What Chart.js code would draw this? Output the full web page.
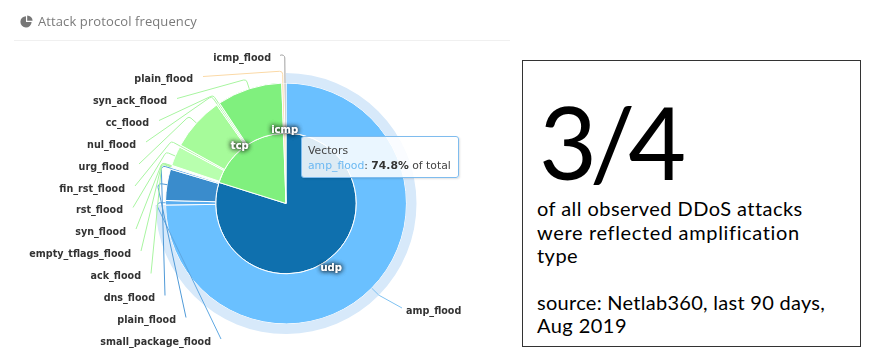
<!DOCTYPE html>
<html>
<head>
<meta charset="utf-8">
<script src="https://cdn.jsdelivr.net/npm/chart.js@4"></script>
<style>
html,body{margin:0;padding:0;background:#fff;width:871px;height:363px;overflow:hidden}
#stage{position:relative;width:871px;height:363px}
#left{position:absolute;left:0;top:0;width:510px;height:363px;overflow:hidden;filter:blur(.35px)}
canvas{position:absolute;left:0;top:0}
#title{position:absolute;left:38px;top:12px;font:13px/18px "Open Sans",sans-serif;color:#7a7a7a;letter-spacing:.1px;white-space:nowrap}
#icon{position:absolute;left:20px;top:15px}
#rule{position:absolute;left:14px;top:40px;width:496px;height:1px;background:#f0f0f0}
#tip{position:absolute;left:301px;top:136px;width:158px;height:42px;box-sizing:border-box;border:1px solid #7fbcee;border-radius:3px;background:rgba(255,255,255,.86);box-shadow:1px 1px 2px rgba(0,0,0,.12);font:10.8px/15px "DejaVu Sans",sans-serif;color:#444;padding:6px 6px;white-space:nowrap}
#tip .n{color:#6cb8f2}
#tip b{color:#333}
#box{position:absolute;left:522px;top:60px;width:337px;height:285px;border:1px solid #333;box-sizing:content-box}
.t{position:absolute;white-space:nowrap;color:#000;font-family:Lato,sans-serif}
#big{left:539px;top:81px;font-size:100px;line-height:120px;font-weight:400;letter-spacing:-7px}
.b{left:537px;font-size:20px;line-height:24px;letter-spacing:.45px}
</style>
</head>
<body>
<div id="stage">
<div id="left">
<canvas id="c" width="871" height="363"></canvas>
<svg id="icon" width="13" height="13" viewBox="0 0 13 13"><path d="M6 1.2A5.6 5.6 0 1 0 11.6 7H6z" fill="#777"/><path d="M7.2 0.4A5.4 5.4 0 0 1 12.6 5.8H7.2z" fill="#777"/></svg>
<div id="title">Attack protocol frequency</div>
<div id="rule"></div>
<div id="tip"></div>
</div>
<div id="box"></div>
<div class="t" id="big">3/4</div>
<div class="t b" style="top:196px">of all observed DDoS attacks</div>
<div class="t b" style="top:220px;letter-spacing:.65px">were reflected amplification</div>
<div class="t b" style="top:243px">type</div>
<div class="t b" style="top:290px;letter-spacing:.28px">source: Netlab360, last 90 days,</div>
<div class="t b" style="top:313px">Aug 2019</div>
</div>
<script>
const protocolLabels = ["udp", "tcp", "icmp"];
const protocolValues = [79.85, 19.59, 0.56];
const vectorLabels = ["amp_flood", "small_package_flood", "plain_flood", "dns_flood", "ack_flood", "empty_tflags_flood", "syn_flood", "rst_flood", "fin_rst_flood", "urg_flood", "nul_flood", "cc_flood", "syn_ack_flood", "plain_flood", "icmp_flood"];
const vectorValues = [74.8, 0.6, 4.2, 0.25, 0.1, 0.08, 0.1, 2.64, 0.28, 7.2, 0.22, 0.22, 8.75, 0.3, 0.26];

const protocolColors = ["#0f70ae", "#80f07e", "#fbe3bd"];
const vectorColors = ["#6ac0ff", "#5aaef0", "#3a8ccc", "#5aa6e6", "#b4f8a8", "#b4f8a8", "#b4f8a8", "#b8ffae", "#b4f8a8", "#a6fb9a", "#a6f8a0", "#a6f8a0", "#80f07e", "#fbd9a6", "#a8a8a8"];
const haloColors = ["#d7e9fa", "rgba(0,0,0,0)", "rgba(0,0,0,0)", "rgba(0,0,0,0)", "rgba(0,0,0,0)", "rgba(0,0,0,0)", "rgba(0,0,0,0)", "rgba(0,0,0,0)", "rgba(0,0,0,0)", "rgba(0,0,0,0)", "rgba(0,0,0,0)", "rgba(0,0,0,0)", "rgba(0,0,0,0)", "rgba(0,0,0,0)", "rgba(0,0,0,0)"];
const leaderColors = ["#7fc2f2", "#5fa8e2", "#4f9ad8", "#4f9ad8", "#a8f5a0", "#a8f5a0", "#a8f5a0", "#a8f5a0", "#a8f5a0", "#a8f5a0", "#a8f5a0", "#a8f5a0", "#a8f5a0", "#fbd9a6", "#a0a0a0"];

// label layout: text anchor x, text centre y, elbow length
const labelAnchorX = [406, 211, 176, 155, 141, 131, 126, 123, 125, 129, 136, 149, 167, 193, 271];
const labelCentreY = [311, 342, 320.5, 298.5, 276.5, 254, 232, 210.5, 189, 167, 145, 123.5, 101.5, 79.5, 58];
const elbowLength = [10, 10, 10, 10, 10, 10, 10, 10, 10, 10, 10, 10, 10, 12, 30];

const labelPlugin = {
  id: "pieLabels",
  afterDatasetsDraw(chart) {
    const ctx = chart.ctx;
    const outer = chart.getDatasetMeta(1).data;
    const inner = chart.getDatasetMeta(2).data;
    ctx.save();
    outer.forEach((arc, i) => {
      const a = (arc.startAngle + arc.endAngle) / 2;
      const r = arc.outerRadius;
      const sx = arc.x + Math.cos(a) * r, sy = arc.y + Math.sin(a) * r;
      const cx = arc.x + Math.cos(a) * (r + elbowLength[i]), cy = arc.y + Math.sin(a) * (r + elbowLength[i]);
      const rightSide = i === 0;
      const ex = rightSide ? labelAnchorX[i] - 4 : labelAnchorX[i] + 10;
      const ey = labelCentreY[i] - 3;
      ctx.beginPath();
      ctx.moveTo(ex, ey);
      ctx.arcTo(cx, cy, sx, sy, 3);
      ctx.lineTo(sx, sy);
      ctx.strokeStyle = leaderColors[i];
      ctx.lineWidth = 1;
      ctx.stroke();
      ctx.font = 'bold 9.6px "DejaVu Sans", sans-serif';
      ctx.fillStyle = "#333";
      ctx.textBaseline = "middle";
      ctx.textAlign = rightSide ? "left" : "right";
      ctx.fillText(vectorLabels[i], labelAnchorX[i], labelCentreY[i]);
    });
    inner.forEach((arc, i) => {
      const a = (arc.startAngle + arc.endAngle) / 2;
      const r = arc.outerRadius + 6;
      const x = arc.x + Math.cos(a) * r, y = arc.y + Math.sin(a) * r + 3.5;
      ctx.font = 'bold 10px "DejaVu Sans", sans-serif';
      ctx.textAlign = "center";
      ctx.textBaseline = "middle";
      ctx.shadowColor = "rgba(0,0,0,.9)";
      ctx.shadowBlur = 5;
      ctx.fillStyle = "#fff";
      ctx.fillText(protocolLabels[i], x, y);
      ctx.fillText(protocolLabels[i], x, y);
      ctx.shadowBlur = 0;
    });
    ctx.restore();
  }
};

new Chart(document.getElementById("c"), {
  type: "doughnut",
  data: {
    labels: vectorLabels,
    datasets: [
      { data: vectorValues, backgroundColor: haloColors, borderWidth: 0, weight: 10 },
      { data: vectorValues, backgroundColor: vectorColors, borderColor: "#fff", borderWidth: 1, weight: 50 },
      { data: protocolValues, backgroundColor: protocolColors, borderColor: "#fff", borderWidth: 1, weight: 70 }
    ]
  },
  options: {
    responsive: false,
    animation: false,
    cutout: 0,
    events: [],
    layout: { padding: { left: 155.5, right: 454.5, top: 73, bottom: 29 } },
    plugins: { legend: { display: false }, tooltip: { enabled: false } }
  },
  plugins: [labelPlugin]
});

document.getElementById("tip").innerHTML =
  'Vectors<br><span class="n">' + vectorLabels[0] + '</span>: <b>' + vectorValues[0].toFixed(1) + '%</b> of total';
</script>
</body>
</html>
